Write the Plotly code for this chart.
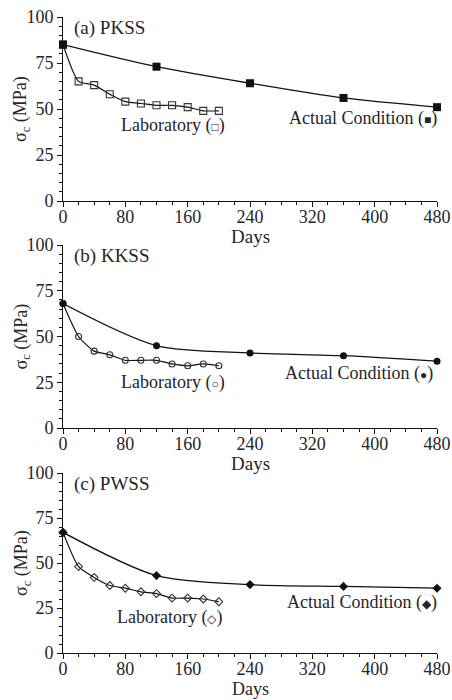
import plotly.graph_objects as go

# Curing time (days)
lab_days = [0, 20, 40, 60, 80, 100, 120, 140, 160, 180, 200]
actual_days = [0, 120, 240, 360, 480]

# Uniaxial compressive strength (MPa)
pkss_lab = [85, 65, 63, 58, 54, 53, 52, 52, 51, 49, 49]
pkss_actual = [85, 73, 64, 56, 51]
kkss_lab = [68, 50, 42, 40, 37, 37, 37, 35, 34, 35, 34]
kkss_actual = [68, 45, 41, 39.5, 36.5]
pwss_lab = [67, 48, 42, 37.5, 36, 34, 33, 30.5, 30.5, 30, 28.5]
pwss_actual = [67, 43, 38, 37, 36]

panel_titles = ["(a) PKSS", "(b) KKSS", "(c) PWSS"]
x_ticks = [0, 80, 160, 240, 320, 400, 480]
y_ticks = [0, 25, 50, 75, 100]

FONT = "Liberation Serif, Times New Roman, serif"
INK = "#111111"
TXT = "#262626"
FS_TICK = 18
FS_LABEL = 18
FS_TITLE = 19

W, H = 452, 700
x_left, x_right = 63, 437
panel_px = [(17, 201), (245, 428), (473, 653)]  # (top, bottom) in pixels

open_symbols = ["square-open", "circle-open", "diamond-open"]
filled_symbols = ["square", "circle", "diamond"]
open_sizes = [7, 6, 6]
filled_sizes = [8, 7, 7]
open_glyph = ["\u25A1", "\u25CB", "\u25C7"]
filled_glyph = ["\u25A0", "\u25CF", "\u25C6"]

lab_series = [pkss_lab, kkss_lab, pwss_lab]
actual_series = [pkss_actual, kkss_actual, pwss_actual]
lab_label_pos = [(41, 210), (25, 210), (20, 206)]     # (MPa, right edge in days)
act_label_pos = [(45, 480), (30, 477), (28, 480)]

fig = go.Figure()
layout = dict(
    width=W, height=H,
    margin=dict(l=0, r=0, t=0, b=0),
    paper_bgcolor="white", plot_bgcolor="white",
    showlegend=False,
    font=dict(family=FONT, size=FS_LABEL, color=TXT),
)
annotations = []

for i in range(3):
    n = "" if i == 0 else str(i + 1)
    xa, ya = "x" + n, "y" + n
    top, bot = panel_px[i]
    dom_y = [1 - bot / H, 1 - top / H]
    dom_x = [x_left / W, x_right / W]

    fig.add_trace(go.Scatter(
        x=lab_days, y=lab_series[i], xaxis=xa, yaxis=ya,
        mode="lines+markers", cliponaxis=False,
        line=dict(color=INK, width=1.2, shape="spline", smoothing=0.6),
        marker=dict(symbol=open_symbols[i], size=open_sizes[i],
                    color="#333333", line=dict(width=1.1, color="#333333")),
    ))
    fig.add_trace(go.Scatter(
        x=actual_days, y=actual_series[i], xaxis=xa, yaxis=ya,
        mode="lines+markers", cliponaxis=False,
        line=dict(color=INK, width=1.3, shape="spline", smoothing=0.8),
        marker=dict(symbol=filled_symbols[i], size=filled_sizes[i], color=INK),
    ))

    axis_common = dict(
        showline=True, linecolor=INK, linewidth=1, mirror=False,
        showgrid=False, zeroline=False,
        ticks="outside", ticklen=5, tickwidth=1, tickcolor=INK,
        tickfont=dict(family=FONT, size=FS_TICK, color=TXT),
        fixedrange=True, automargin=False,
    )
    layout["xaxis" + n] = dict(
        axis_common, domain=dom_x, range=[0, 480], anchor=ya,
        tickmode="array", tickvals=x_ticks, ticklabelstandoff=-6,
        minor=dict(tick0=0, dtick=20, ticks="outside", ticklen=3,
                   tickwidth=1, tickcolor=INK, showgrid=False),
    )
    layout["yaxis" + n] = dict(
        axis_common, domain=dom_y, range=[0, 100], anchor=xa,
        tickmode="array", tickvals=y_ticks,
        minor=dict(tick0=0, dtick=5, ticks="outside", ticklen=3,
                   tickwidth=1, tickcolor=INK, showgrid=False),
    )

    # panel title
    annotations.append(dict(
        text=panel_titles[i], xref=xa, yref=ya, x=12, y=94,
        xanchor="left", yanchor="middle", showarrow=False,
        font=dict(family=FONT, size=FS_TITLE, color=TXT),
    ))
    # series labels
    ly, lx = lab_label_pos[i]
    annotations.append(dict(
        text="Laboratory (<span style='font-size:12px'>%s</span>)" % open_glyph[i],
        xref=xa, yref=ya, x=lx, y=ly, xanchor="right", yanchor="middle",
        showarrow=False, font=dict(family=FONT, size=FS_LABEL, color=TXT),
    ))
    ay, ax = act_label_pos[i]
    annotations.append(dict(
        text="Actual Condition (<span style='font-size:12px'>%s</span>)" % filled_glyph[i],
        xref=xa, yref=ya, x=ax, y=ay, xanchor="right", yanchor="middle",
        xshift=2 if ax == 480 else 0,
        showarrow=False, font=dict(family=FONT, size=FS_LABEL, color=TXT),
    ))
    # axis titles
    if i < 2:
        days_y, days_anchor, days_fs = 1 - (bot + 36) / H, "middle", FS_TITLE
    else:
        days_y, days_anchor, days_fs = 0, "bottom", FS_LABEL
    annotations.append(dict(
        text="Days", xref="paper", yref="paper",
        x=(x_left + x_right) / 2 / W, y=days_y, borderpad=0,
        xanchor="center", yanchor=days_anchor, showarrow=False,
        font=dict(family=FONT, size=days_fs, color=TXT),
    ))
    annotations.append(dict(
        text="\u03c3<sub>c</sub> (MPa)", xref="paper", yref="paper",
        x=22 / W, y=1 - ((top + bot) / 2) / H, textangle=-90,
        xanchor="center", yanchor="middle", showarrow=False,
        font=dict(family=FONT, size=FS_LABEL, color=TXT),
    ))

layout["annotations"] = annotations
fig.update_layout(**layout)
fig.write_html("out.html")
